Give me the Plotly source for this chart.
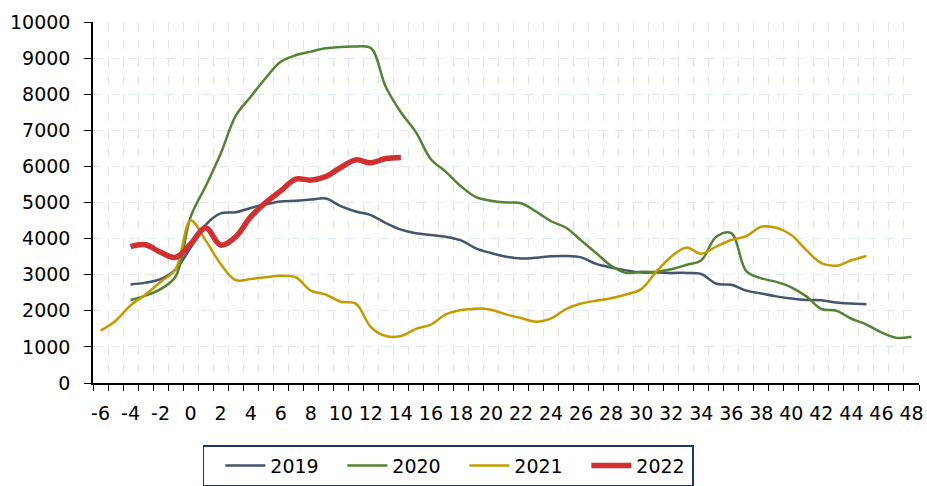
import plotly.graph_objects as go

weeks_2019 = list(range(-4, 46))
vals_2019 = [2730, 2780, 2880, 3150, 3750, 4380, 4700, 4730, 4850, 4950,
             5030, 5050, 5080, 5110, 4900, 4750, 4650, 4430, 4250, 4150,
             4100, 4050, 3950, 3730, 3600, 3500, 3450, 3470, 3510, 3520,
             3480, 3300, 3200, 3120, 3060, 3060, 3050, 3050, 3020, 2750,
             2720, 2560, 2480, 2400, 2340, 2300, 2290, 2230, 2200, 2180]

weeks_2020 = list(range(-4, 49))
vals_2020 = [2300, 2420, 2600, 2950, 4600, 5450, 6350, 7400, 7930, 8450,
             8900, 9080, 9180, 9270, 9310, 9320, 9280, 8200, 7500, 6950,
             6200, 5850, 5450, 5150, 5050, 5000, 4980, 4750, 4480, 4300,
             3950, 3600, 3250, 3050, 3080, 3080, 3150, 3270, 3400, 4050,
             4150, 3100, 2900, 2800, 2650, 2400, 2050, 2000, 1780, 1620,
             1400, 1250, 1280]

weeks_2021 = list(range(-6, 46))
vals_2021 = [1450, 1720, 2150, 2450, 2800, 3150, 4500, 3950, 3300, 2850,
             2880, 2930, 2970, 2930, 2560, 2450, 2250, 2200, 1550, 1300,
             1300, 1500, 1620, 1900, 2020, 2060, 2030, 1900, 1800, 1700,
             1790, 2050, 2200, 2280, 2350, 2450, 2600, 3080, 3500, 3750,
             3580, 3780, 3960, 4070, 4330, 4300, 4100, 3680, 3320, 3250,
             3400, 3520]

weeks_2022 = list(range(-4, 15))
vals_2022 = [3780, 3830, 3620, 3480, 3850, 4300, 3820, 4050, 4600, 5000,
             5320, 5650, 5620, 5720, 5970, 6180, 6100, 6220, 6250]

x_tick_vals = list(range(-6, 49, 2))
x_tick_text = [str(v) for v in x_tick_vals]
y_tick_vals = list(range(0, 10001, 1000))
y_tick_text = [str(v) for v in y_tick_vals]

series = [
    ("2019", weeks_2019, vals_2019, "#44546a", 2.5),
    ("2020", weeks_2020, vals_2020, "#548235", 2.5),
    ("2021", weeks_2021, vals_2021, "#c39a00", 2.5),
    ("2022", weeks_2022, vals_2022, "#d03030", 5.5),
]

fig = go.Figure()
for name, xs, ys, color, w in series:
    fig.add_trace(go.Scatter(x=xs, y=ys, name=name, mode="lines",
                             line=dict(color=color, width=w, shape="spline", smoothing=1.0)))

font = "DejaVu Sans, sans-serif"
fs = 19
fig.update_layout(
    width=927, height=486,
    margin=dict(l=93, r=7.5, t=22, b=103, autoexpand=False),
    paper_bgcolor="white", plot_bgcolor="white",
    font=dict(family=font, size=fs, color="#000000"),
    showlegend=True,
    legend=dict(orientation="h", x=0.133, xanchor="left", y=-0.172, yanchor="top",
                bordercolor="#203864", borderwidth=1.5,
                entrywidth=51, entrywidthmode="pixels", indentation=16,
                font=dict(family=font, size=fs, color="#000000"),
                itemwidth=40),
    xaxis=dict(range=[-6.5, 48.5], tickvals=x_tick_vals, ticktext=x_tick_text,
               ticks="", showgrid=False, zeroline=False, automargin=False,
               showline=True, linecolor="#000000", linewidth=1.5,
               tickfont=dict(size=fs), ticklabelstandoff=12,
               minor=dict(tick0=-6.5, dtick=1, ticks="outside", ticklen=6,
                          tickcolor="#000000", tickwidth=1.3,
                          showgrid=True, gridcolor="#e3e3e3", griddash="dash", gridwidth=1.3)),
    yaxis=dict(range=[0, 10000], tickvals=y_tick_vals, ticktext=y_tick_text,
               ticks="outside", ticklen=7, tickcolor="#000000", tickwidth=1.3,
               showgrid=True, gridcolor="#dce8f5", griddash="dash", gridwidth=1.3,
               zeroline=False, showline=True, linecolor="#000000", linewidth=1.5,
               automargin=False,
               tickfont=dict(size=fs), ticklabelstandoff=10),
)

fig.write_html("out.html", config={"displayModeBar": False},
               post_script="document.body.style.margin='0';document.body.style.overflow='hidden';")
